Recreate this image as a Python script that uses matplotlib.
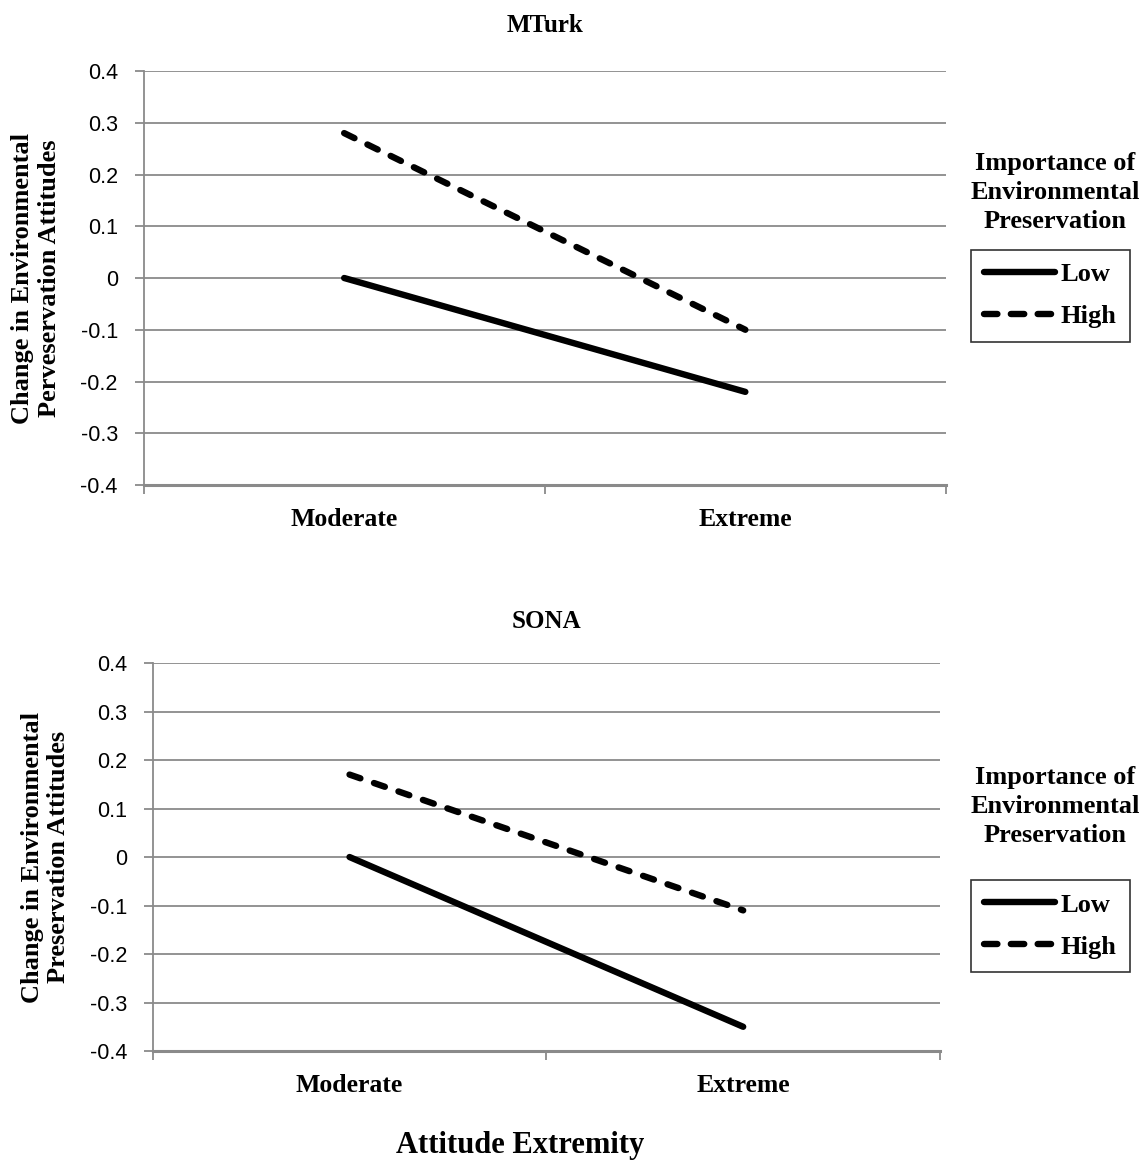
import matplotlib
matplotlib.use("Agg")
import matplotlib.pyplot as plt
from matplotlib.lines import Line2D

categories = ["Moderate", "Extreme"]
mturk_low = [0.0, -0.22]
mturk_high = [0.28, -0.10]
sona_low = [0.0, -0.35]
sona_high = [0.17, -0.11]
yticks = [-0.4, -0.3, -0.2, -0.1, 0, 0.1, 0.2, 0.3, 0.4]
ytick_labels = ["-0.4", "-0.3", "-0.2", "-0.1", "0", "0.1", "0.2", "0.3", "0.4"]

SERIF = ["Liberation Serif", "DejaVu Serif"]
SANS = ["Liberation Sans", "DejaVu Sans"]
GRID = "#8a8a8a"
LW = 4.6

fig = plt.figure(figsize=(11.43, 11.62), dpi=100)

def panel(rect, low, high, title, ylabel, title_pad, legend_title_y, legend_box_y):
    ax = fig.add_axes(rect)
    x = list(range(len(categories)))
    ax.plot(x, low, color="black", lw=LW, solid_capstyle="round", zorder=3)
    ax.plot(x, high, color="black", lw=LW, dashes=(1.8, 2.25), dash_capstyle="round", zorder=3)
    ax.set_xlim(-0.5, 1.5)
    ax.set_ylim(-0.4, 0.4)
    ax.set_yticks(yticks)
    ax.set_yticklabels(ytick_labels, fontfamily=SANS, fontsize=15.5)
    ax.set_xticks([-0.5, 0.5, 1.5])
    ax.set_xticklabels([])
    ax.set_xticks(x, minor=True)
    ax.set_xticklabels(categories, minor=True, fontfamily=SERIF, fontsize=18.5, fontweight="bold")
    ax.tick_params(axis="x", which="minor", length=0, pad=16.5)
    ax.tick_params(axis="x", which="major", length=6.5, width=1.3, color=GRID, direction="out")
    ax.tick_params(axis="y", length=6.5, width=1.3, color=GRID, direction="out", pad=12)
    ax.grid(axis="y", color=GRID, lw=1.3)
    for s in ["top", "right"]:
        ax.spines[s].set_visible(False)
    for s in ["left", "bottom"]:
        ax.spines[s].set_color(GRID)
        ax.spines[s].set_linewidth(1.3)
    ax.spines["bottom"].set_linewidth(2.2)
    ax.set_title(title, fontfamily=SERIF, fontsize=18, fontweight="bold", pad=title_pad)
    ax.set_ylabel(ylabel, fontfamily=SERIF, fontsize=19, fontweight="bold", labelpad=14, linespacing=1.2)
    handles = [Line2D([], [], color="black", lw=LW, solid_capstyle="round"),
               Line2D([], [], color="black", lw=LW, dashes=(2.1, 2.1), dash_capstyle="round")]
    fig.text(0.923, legend_title_y, "Importance of\nEnvironmental\nPreservation", ha="center", va="top",
             fontfamily=SERIF, fontsize=19, fontweight="bold", linespacing=1.33)
    leg = fig.legend(handles, ["Low", "High"], loc="upper left",
                     bbox_to_anchor=(0.8495, legend_box_y),
                     prop={"family": SERIF, "size": 19, "weight": "bold"},
                     frameon=True, fancybox=False, edgecolor="black", handlelength=2.7,
                     handletextpad=0.2, borderpad=0.5, labelspacing=0.7, borderaxespad=0)
    leg.get_frame().set_linewidth(1.2)
    return ax

panel([0.1256, 0.5826, 0.702, 0.3563], mturk_low, mturk_high, "MTurk",
      "Change in Environmental\nPerveservation Attitudes", 28, 0.869, 0.785)
panel([0.1336, 0.0955, 0.6888, 0.3339], sona_low, sona_high, "SONA",
      "Change in Environmental\nPreservation Attitudes", 25, 0.3408, 0.2427)

fig.text(0.455, 0.0146, "Attitude Extremity", ha="center", va="center",
         fontfamily=SERIF, fontsize=22, fontweight="bold")

fig.savefig("out.png", dpi=100)
